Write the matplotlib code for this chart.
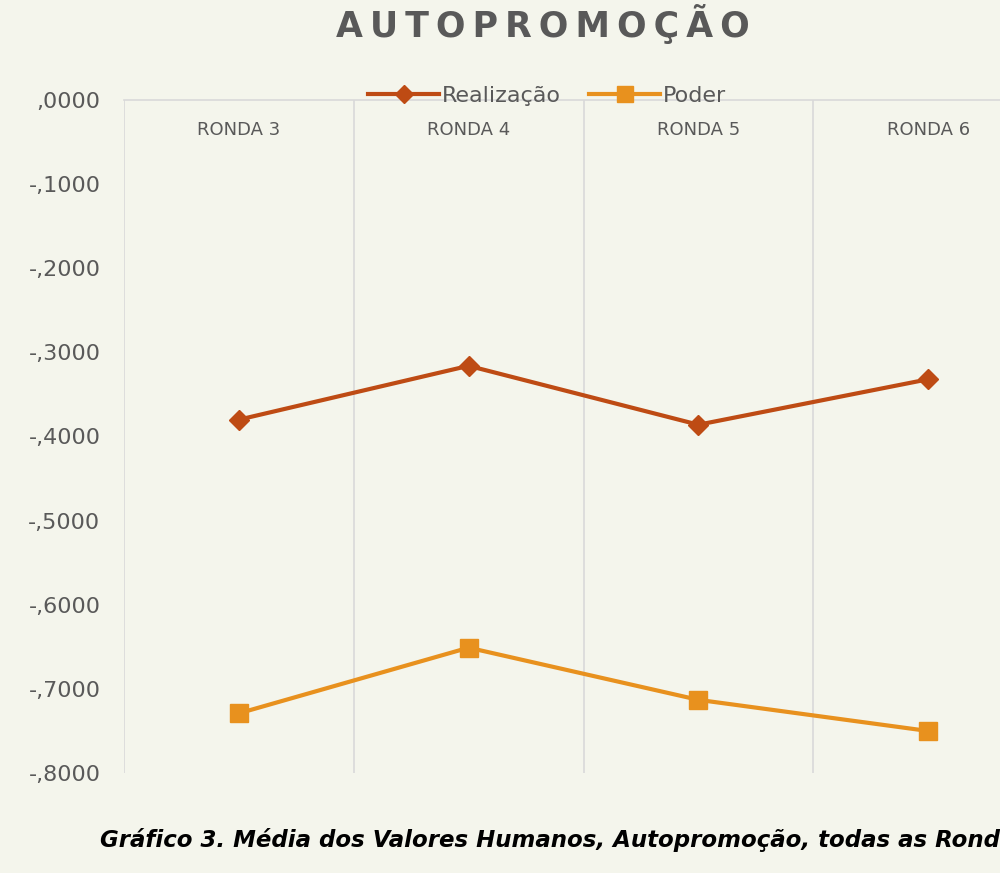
import matplotlib
matplotlib.use('Agg')
import matplotlib.pyplot as plt
from matplotlib.ticker import FuncFormatter, FixedLocator

rondas = ['RONDA 3', 'RONDA 4', 'RONDA 5', 'RONDA 6']
realizacao = [-0.380, -0.316, -0.386, -0.332]
poder = [-0.729, -0.651, -0.713, -0.750]

plt.rcParams['font.family'] = ['DejaVu Sans']
txt = '#595959'
bg = '#f4f5ec'

fig = plt.figure(figsize=(10, 8.73), dpi=100, facecolor=bg)
ax = fig.add_axes([0.124, 0.1145, 0.919, 0.771])
ax.set_facecolor(bg)

x = range(len(rondas))
ax.plot(x, realizacao, color='#be4b14', lw=3, marker='D', ms=10, label='Realização')
ax.plot(x, poder, color='#e8911e', lw=3, marker='s', ms=13, label='Poder')

ax.set_xlim(-0.5, 3.5)
ax.set_ylim(-0.8, 0)
ax.xaxis.tick_top()
ax.set_xticks(list(x))
ax.set_xticklabels(rondas, fontsize=13, color=txt)
ax.xaxis.set_minor_locator(FixedLocator([-0.5, 0.5, 1.5, 2.5]))
ax.grid(which='minor', axis='x', color='#d9d9d9', lw=1.2)
ax.set_yticks([0, -0.1, -0.2, -0.3, -0.4, -0.5, -0.6, -0.7, -0.8])
ax.yaxis.set_major_formatter(FuncFormatter(lambda v, p: f'{v:.4f}'.replace('0.', ',').replace('-,0000', ',0000')))
ax.tick_params(axis='y', labelsize=16, labelcolor=txt, length=0, pad=17)
ax.tick_params(axis='x', length=0, pad=-28)
ax.tick_params(which='minor', length=0)
for s in ['bottom', 'right', 'left']:
    ax.spines[s].set_visible(False)
ax.spines['top'].set_color('#d9d9d9')
ax.spines['top'].set_linewidth(1.2)

# letter-spaced title
title = '\u2009'.join('AUTOPROMOÇÃO')
fig.text(0.543, 0.973, title, ha='center', va='center', fontsize=25,
         fontweight='bold', color=txt)
fig.legend(loc='center', bbox_to_anchor=(0.547, 0.890), ncol=2, frameon=False,
           fontsize=16, labelcolor=txt, handlelength=3.2, handletextpad=0.1,
           columnspacing=1.3, markerscale=0.9)
fig.text(0.1, 0.038, 'Gráfico 3. Média dos Valores Humanos, Autopromoção, todas as Rondas',
         ha='left', va='center', fontsize=16.5, fontweight='bold', style='italic', color='black')

fig.savefig('out.png', dpi=100, facecolor=bg)
